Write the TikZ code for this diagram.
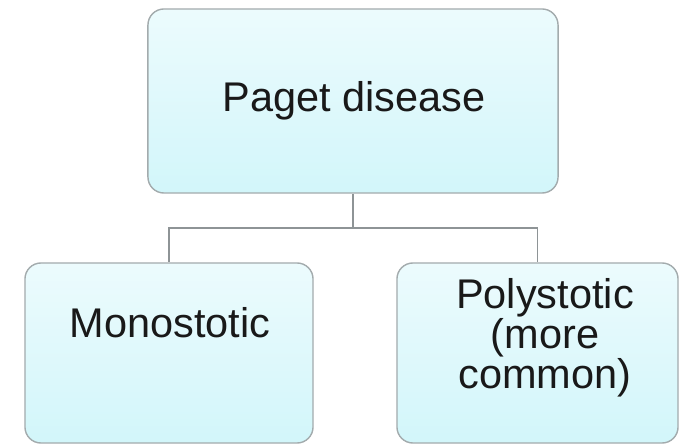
\documentclass[tikz,border=0pt]{standalone}
\usepackage{fontspec}
\setmainfont{Liberation Sans}
\definecolor{boxtop}{HTML}{ECFBFD}
\definecolor{boxbot}{HTML}{D2F6FA}
\definecolor{boxline}{HTML}{A3ABAD}
\definecolor{linkline}{HTML}{8E9496}
\tikzset{
  box/.style = {draw = boxline, line width = 1pt, rounded corners = 0.4cm,
    top color = boxtop, bottom color = boxbot, inner sep = 0pt},
  lbl/.style = {font = \fontsize{29.5}{24}\selectfont, align = center, text = black!90},
  link/.style = {draw = linkline, line width = 0.8pt}
}
\begin{document}
\begin{tikzpicture}[x = 0.025cm, y = -0.025cm]
        \useasboundingbox (0, 0) rectangle (684, 445);
        \node[box, minimum width = 10.25cm, minimum height = 4.6cm] (paget) at (353, 101) {};
        \node[box, minimum width = 7.2cm, minimum height = 4.5cm] (mono) at (169, 353) {};
        \node[box, minimum width = 7.025cm, minimum height = 4.5cm] (poly) at (537.5, 353) {};
        \coordinate (J) at (353, 228);
        \draw[link] (paget.south) -- (J);
        \draw[link] (J) -| (mono.north);
        \draw[link] (J) -| (poly.north);
        \node[lbl, anchor = base] (pagettext) at (354, 112) {Paget disease};
        \node[lbl, anchor = base] (monotext) at (170, 337) {Monostotic};
        \node[lbl] (polytext) at (545, 338) {Polystotic\\(more\\common)};
    \end{tikzpicture}
\end{document}
